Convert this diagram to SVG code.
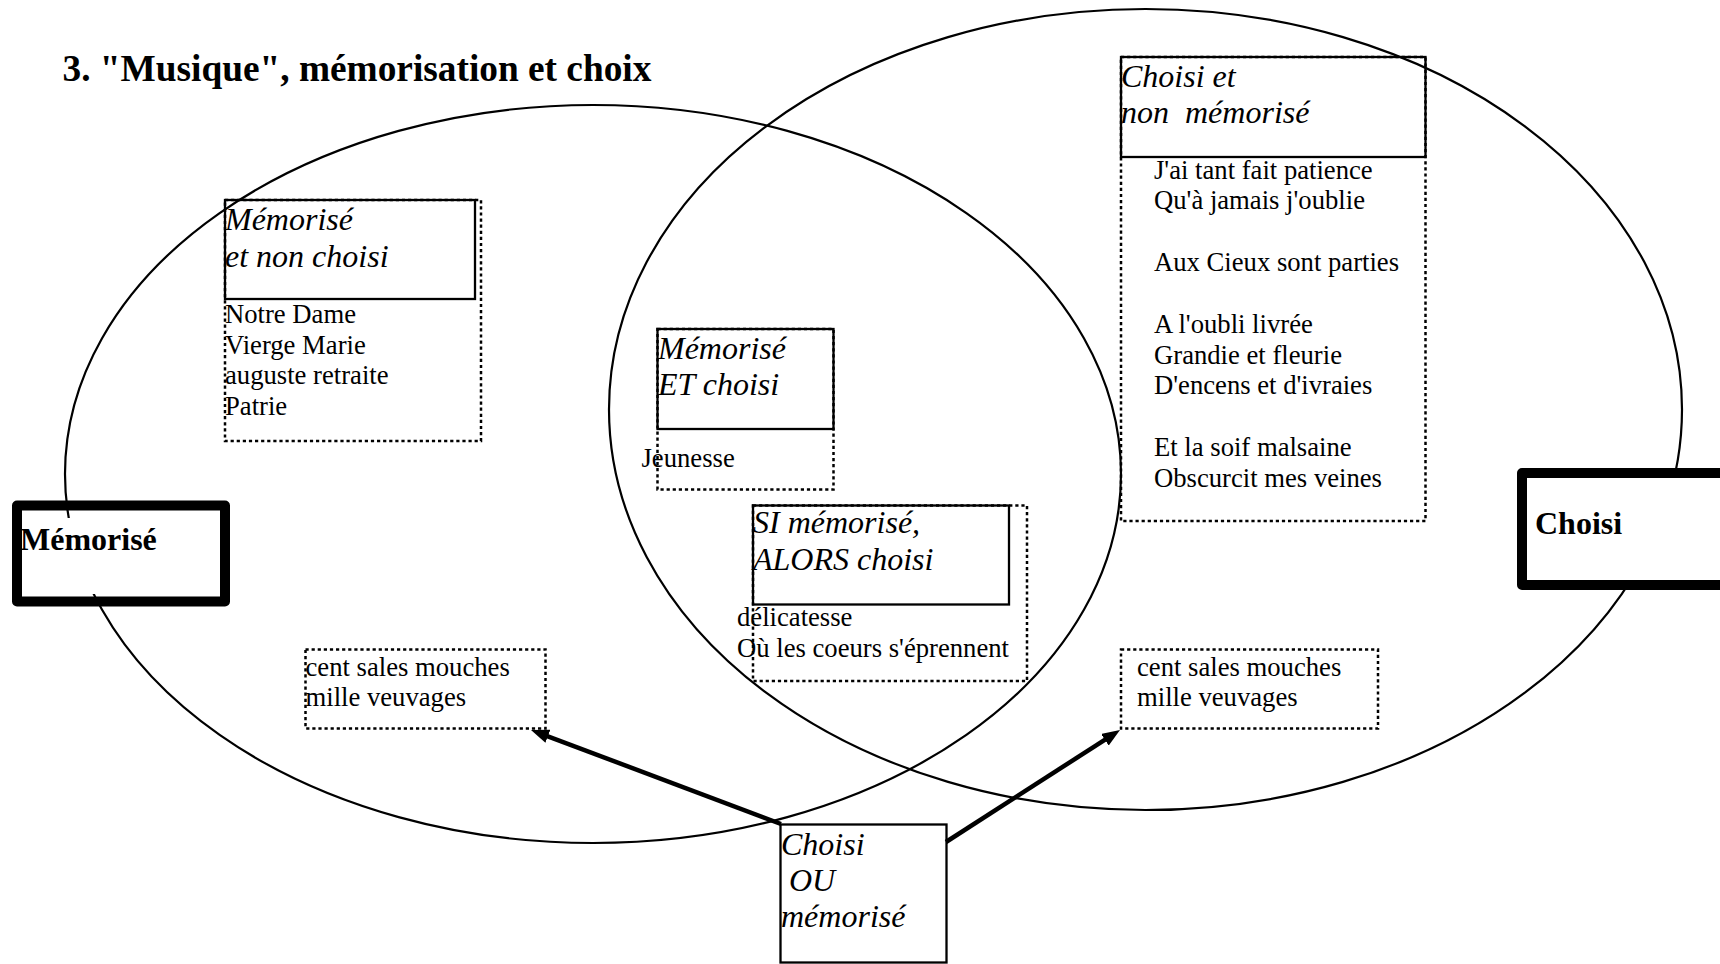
<svg xmlns="http://www.w3.org/2000/svg" width="1720" height="964" viewBox="0 0 1720 964">
<style>
text{font-family:"Liberation Serif","Times New Roman",serif;fill:#000}
.title{font-size:37.33px;font-weight:bold}
.hdr{font-size:32px;font-style:italic}
.body{font-size:26.67px}
.lbl{font-size:32px;font-weight:bold}
.ell{fill:none;stroke:#000;stroke-width:2.2}
.solid{fill:none;stroke:#000;stroke-width:2.3}
.dot{fill:none;stroke:#000;stroke-width:2.5;stroke-dasharray:3.2 2.9}
.thick{fill:none;stroke:#000;stroke-width:10;stroke-linejoin:round}
.arrow{stroke:#000;stroke-width:4.5;fill:none;marker-end:url(#ah)}
</style>
<defs>
<marker id="ah" viewBox="0 0 18 14" refX="10" refY="7" markerWidth="18" markerHeight="14" markerUnits="userSpaceOnUse" orient="auto">
<path d="M0,0 L18,7 L0,14 z" fill="#000"/>
</marker>
</defs>
<rect width="1720" height="964" fill="#fff"/>
<text class="title" x="62.5" y="81">3. "Musique", mémorisation et choix</text>
<g id="ellipses">
<ellipse id="ellipse-memorise" class="ell" cx="593" cy="474" rx="528" ry="369"/>
<ellipse id="ellipse-choisi" class="ell" cx="1145.5" cy="409.5" rx="536.5" ry="400.5"/>
</g>
<g id="node-memorise-non-choisi">
<rect class="dot" x="225" y="200" width="256" height="241"/>
<rect class="solid" x="225" y="200" width="250" height="99"/>
<text class="hdr" x="225" y="230">Mémorisé</text>
<text class="hdr" x="225" y="266.7">et non choisi</text>
<text class="body" x="225" y="323">Notre Dame</text>
<text class="body" x="225" y="353.5">Vierge Marie</text>
<text class="body" x="225" y="384">auguste retraite</text>
<text class="body" x="225" y="414.5">Patrie</text>
</g>
<g id="node-memorise-et-choisi">
<rect class="dot" x="657.5" y="329" width="176" height="160.5"/>
<rect class="solid" x="657.5" y="329" width="176" height="100"/>
<text class="hdr" x="658" y="358.5">Mémorisé</text>
<text class="hdr" x="658" y="395">ET choisi</text>
<text class="body" x="641.5" y="467">Jeunesse</text>
</g>
<g id="node-si-alors">
<rect class="dot" x="753" y="505.5" width="274" height="175.5"/>
<rect class="solid" x="753" y="505.5" width="256" height="99"/>
<text class="hdr" x="753" y="533">SI mémorisé,</text>
<text class="hdr" x="753" y="569.5">ALORS choisi</text>
<text class="body" x="737" y="626">délicatesse</text>
<text class="body" x="737" y="656.5">Où les coeurs s'éprennent</text>
</g>
<g id="node-choisi-non-memorise">
<rect class="dot" x="1121" y="57" width="304.5" height="464"/>
<rect class="solid" x="1121" y="57" width="304.5" height="100"/>
<text class="hdr" x="1121" y="86.5">Choisi et</text>
<text class="hdr" x="1121" y="123" xml:space="preserve">non  mémorisé</text>
<text class="body" x="1154" y="178.5">J'ai tant fait patience</text>
<text class="body" x="1154" y="209.3">Qu'à jamais j'oublie</text>
<text class="body" x="1154" y="271">Aux Cieux sont parties</text>
<text class="body" x="1154" y="332.7">A l'oubli livrée</text>
<text class="body" x="1154" y="363.5">Grandie et fleurie</text>
<text class="body" x="1154" y="394.4">D'encens et d'ivraies</text>
<text class="body" x="1154" y="456">Et la soif malsaine</text>
<text class="body" x="1154" y="487">Obscurcit mes veines</text>
</g>
<g id="node-cent-left">
<rect class="dot" x="305.5" y="649.5" width="240" height="79"/>
<text class="body" x="305.5" y="676">cent sales mouches</text>
<text class="body" x="305.5" y="706">mille veuvages</text>
</g>
<g id="node-cent-right">
<rect class="dot" x="1121" y="649.5" width="257" height="79"/>
<text class="body" x="1137" y="676">cent sales mouches</text>
<text class="body" x="1137" y="706">mille veuvages</text>
</g>
<g id="node-memorise">
<rect x="22" y="518" width="198" height="76" fill="#fff"/>
<rect class="thick" x="17" y="505.5" width="208" height="96"/>
<text class="lbl" x="20" y="550">Mémorisé</text>
</g>
<g id="node-choisi">
<rect x="1522" y="473" width="240" height="112" fill="#fff"/>
<rect class="thick" x="1522" y="473" width="240" height="112"/>
<text class="lbl" x="1535" y="534">Choisi</text>
</g>
<g id="node-choisi-ou-memorise">
<rect x="780.5" y="824.5" width="166" height="138" fill="#fff" stroke="#000" stroke-width="2.3"/>
<text class="hdr" x="781" y="854.5">Choisi</text>
<text class="hdr" x="781" y="890.5" xml:space="preserve"> OU</text>
<text class="hdr" x="781" y="927">mémorisé</text>
</g>
<g id="connectors">
<line class="arrow" x1="781" y1="824" x2="538.5" y2="732.8"/>
<line class="arrow" x1="946" y1="842" x2="1113.3" y2="734.3"/>
</g>
</svg>
